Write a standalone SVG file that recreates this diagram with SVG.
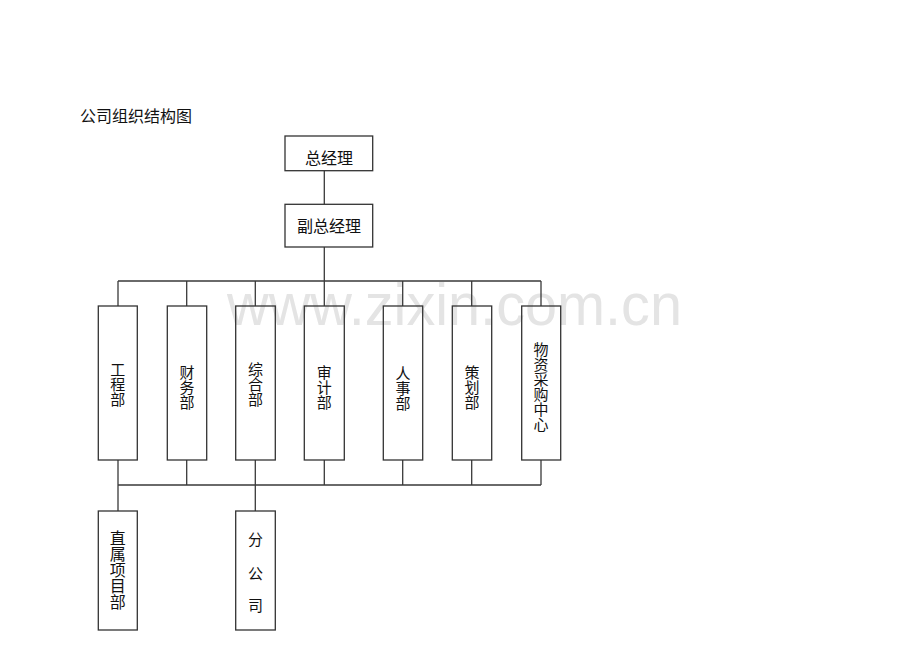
<svg xmlns="http://www.w3.org/2000/svg" width="920" height="651" viewBox="0 0 920 651">
<style>
.bg{fill:#ffffff}
.box{fill:none;stroke:#333333;stroke-width:1.3}
.ln{fill:none;stroke:#3a3a3a;stroke-width:1.3}
.t{font-family:"Liberation Serif","Noto Sans CJK SC",serif;fill:#111111;text-anchor:middle}
.wm{font-family:"Liberation Sans",Arial,sans-serif;fill:#e4e4e4}
</style>
<rect class="bg" x="0" y="0" width="920" height="651"/>
<text class="wm" x="227" y="325" font-size="60" textLength="455" lengthAdjust="spacingAndGlyphs">www.zixin.com.cn</text>
<text x="80" y="122" font-size="16" style="font-family:'Liberation Serif','Noto Sans CJK SC',serif;fill:#111">公司组织结构图</text>
<g id="connectors">
<path class="ln" d="M324.3 170.7V204.3M324.3 247V281M118 281H541M118 281V306M186.7 281V306M255.3 281V306M324.3 281V306M402.7 281V306M471.7 281V306M541 281V306"/>
<path class="ln" d="M118 460V511M186.7 460V485M255.3 460V511M324.3 460V485M402.7 460V485M471.7 460V485M541 460V485M118 485H541"/>
</g>
<g id="n-zjl"><rect class="box" x="285" y="136" width="87.7" height="34.7"/><text class="t" x="329" y="164" font-size="16">总经理</text></g>
<g id="n-fzjl"><rect class="box" x="285" y="204.3" width="87.7" height="42.7"/><text class="t" x="329" y="232" font-size="16">副总经理</text></g>
<g id="n-gcb"><rect class="box" x="98.3" y="306" width="39" height="154"/><text class="t" font-size="15"><tspan x="117.8" y="375">工</tspan><tspan x="117.8" y="390">程</tspan><tspan x="117.8" y="405">部</tspan></text></g>
<g id="n-cwb"><rect class="box" x="167.3" y="306" width="39.4" height="154"/><text class="t" font-size="15"><tspan x="187" y="378">财</tspan><tspan x="187" y="393">务</tspan><tspan x="187" y="408">部</tspan></text></g>
<g id="n-zhb"><rect class="box" x="235.7" y="306" width="39.6" height="154"/><text class="t" font-size="15"><tspan x="255.5" y="375">综</tspan><tspan x="255.5" y="390">合</tspan><tspan x="255.5" y="405">部</tspan></text></g>
<g id="n-sjb"><rect class="box" x="304.3" y="306" width="40" height="154"/><text class="t" font-size="15"><tspan x="324.3" y="378">审</tspan><tspan x="324.3" y="393">计</tspan><tspan x="324.3" y="408">部</tspan></text></g>
<g id="n-rsb"><rect class="box" x="383.3" y="306" width="39.4" height="154"/><text class="t" font-size="15"><tspan x="403" y="379">人</tspan><tspan x="403" y="394">事</tspan><tspan x="403" y="409">部</tspan></text></g>
<g id="n-chb"><rect class="box" x="452.3" y="306" width="39.4" height="154"/><text class="t" font-size="15"><tspan x="472" y="378">策</tspan><tspan x="472" y="393">划</tspan><tspan x="472" y="408">部</tspan></text></g>
<g id="n-wzcg"><rect class="box" x="521.7" y="306" width="39" height="154"/><text class="t" font-size="15"><tspan x="541" y="355">物</tspan><tspan x="541" y="370">资</tspan><tspan x="541" y="385">采</tspan><tspan x="541" y="400">购</tspan><tspan x="541" y="415">中</tspan><tspan x="541" y="430">心</tspan></text></g>
<g id="n-zsxm"><rect class="box" x="98.3" y="511" width="39" height="119"/><text class="t" font-size="16"><tspan x="117.8" y="544">直</tspan><tspan x="117.8" y="560">属</tspan><tspan x="117.8" y="576">项</tspan><tspan x="117.8" y="592">目</tspan><tspan x="117.8" y="608">部</tspan></text></g>
<g id="n-fgs"><rect class="box" x="235.7" y="511" width="39.6" height="119"/><text class="t" font-size="15"><tspan x="255.5" y="545">分</tspan><tspan x="255.5" y="579">公</tspan><tspan x="255.5" y="611">司</tspan></text></g>
</svg>
